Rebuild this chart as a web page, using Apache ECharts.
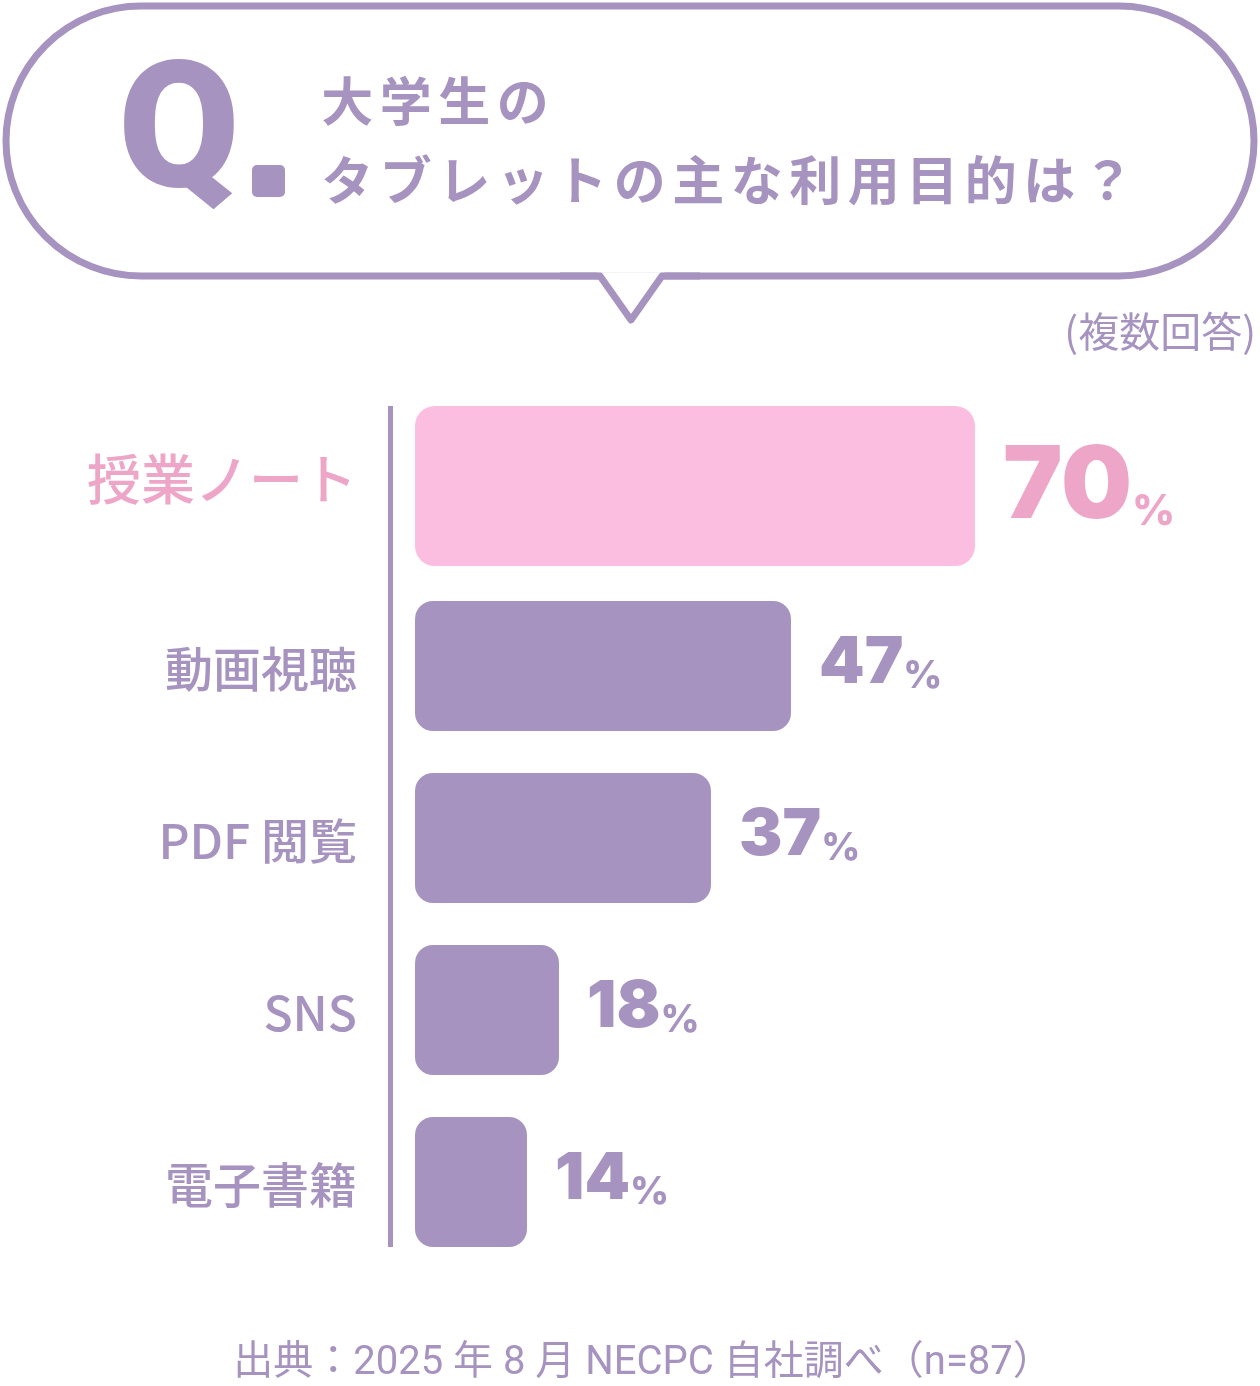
<!DOCTYPE html>
<html><head><meta charset="utf-8">
<script src="https://cdn.jsdelivr.net/npm/echarts@6/dist/echarts.min.js"></script>
<style>html,body{margin:0;padding:0;background:#fff}#c{width:1260px;height:1386px}</style>
</head><body><div id="c"></div>
<script>
const categories = ['授業ノート', '動画視聴', 'PDF 閲覧', 'SNS', '電子書籍'];
const values = [70, 47, 37, 18, 14];
const valueUnit = '%';
const titleLine1 = '大学生の';
const titleLine2 = 'タブレットの主な利用目的は？';
const questionLetter = 'Q';
const noteText = '(複数回答)';
const sourceText = '出典：2025 年 8 月 NECPC 自社調べ（n=87）';

const PURPLE = '#a693bf';
const PINK_BAR = '#fbbde0';
const PINK_TEXT = '#eea6c8';
const CJK = '"Noto Sans CJK JP", "Noto Sans", sans-serif';
const NUM = 'Inter, Roboto, sans-serif';

function spaced(str, style) {
  return Array.from(str).map(ch => `{${style}|${ch}}`).join('');
}

const chart = echarts.init(document.getElementById('c'), null, {renderer: 'canvas'});

function renderItem(params, api) {
  const idx = api.value(1);
  const val = api.value(0);
  const start = api.coord([0, idx]);
  const end = api.coord([val, idx]);
  const band = api.size([0, 1])[1];
  const hl = idx === 0;
  const h = hl ? 160 : 130;
  const cy = start[1] - (hl ? 8 : 0);
  const top = cy - h / 2;
  const last = idx === values.length - 1;
  const lx = start[0] - 24.5;
  const col = hl ? PINK_TEXT : PURPLE;
  return {
    type: 'group',
    children: [
      {
        type: 'line',
        shape: {x1: lx, y1: hl ? top : start[1] - band / 2, x2: lx, y2: last ? top + h : start[1] + band / 2},
        style: {stroke: PURPLE, lineWidth: 5}
      },
      {
        type: 'rect',
        shape: {x: start[0], y: top, width: end[0] - start[0], height: h, r: hl ? 20 : 18},
        style: {fill: hl ? PINK_BAR : PURPLE}
      },
      {
        type: 'text',
        x: end[0] + 28,
        y: cy + (hl ? 2 : -3),
        style: {
          text: `{v|${val}}{p|${valueUnit}}`,
          align: 'left',
          verticalAlign: 'middle',
          fill: col,
          rich: {
            v: {fontFamily: NUM, fontWeight: 900, fontSize: hl ? 100 : 65, lineHeight: hl ? 100 : 65,
                fill: col, verticalAlign: 'bottom'},
            p: {fontFamily: NUM, fontWeight: 800, fontSize: hl ? 42 : 38, lineHeight: hl ? 42 : 38,
                fill: col, verticalAlign: 'bottom', padding: [0, 0, hl ? 5 : 0, 0]}
          }
        }
      }
    ]
  };
}

const option = {
  animation: false,
  backgroundColor: '#ffffff',
  grid: {left: 415, right: 45, top: 408, height: 860},
  xAxis: {type: 'value', min: 0, max: 100, show: false},
  yAxis: {
    type: 'category', data: categories, inverse: true,
    axisLine: {show: false}, axisTick: {show: false}, splitLine: {show: false},
    axisLabel: {
      margin: 58,
      formatter: (v, i) => i === 0 ? `{hl|${v}}` : `{n|${v}}`,
      rich: {
        hl: {fontFamily: CJK, fontWeight: 500, fontSize: 54, color: PINK_TEXT, padding: [0, 0, 30, 0]},
        n: {fontFamily: CJK, fontWeight: 500, fontSize: 48, color: PURPLE, padding: [6, 0, 0, 0]}
      }
    }
  },
  series: [{
    type: 'custom',
    renderItem: renderItem,
    data: values.map((v, i) => [v, i]),
    encode: {x: 0, y: 1},
    clip: false
  }],
  graphic: [
    {type: 'rect', shape: {x: 6, y: 6, width: 1248, height: 270, r: 135}, style: {fill: '#fff', stroke: PURPLE, lineWidth: 7}, z: 1},
    {type: 'polygon', shape: {points: [[597, 272.3], [665, 272.3], [631, 316]]}, style: {fill: '#fff'}, z: 2},
    {type: 'polyline', shape: {points: [[560, 276], [600, 276], [631, 320], [662, 276], [700, 276]]}, style: {fill: null, stroke: PURPLE, lineWidth: 7, lineJoin: 'round', lineCap: 'butt'}, z: 3},
    {type: 'text', x: 118, y: 142, z: 4, style: {text: questionLetter, font: '900 176px Roboto', fill: PURPLE, verticalAlign: 'middle'}},
    {type: 'rect', shape: {x: 252, y: 165, width: 33, height: 32, r: 5}, style: {fill: PURPLE}, z: 4},
    {type: 'text', x: 318, y: 101, z: 4, style: {text: spaced(titleLine1, 'c'), verticalAlign: 'middle', fill: PURPLE,
      rich: {c: {fontFamily: CJK, fontWeight: 700, fontSize: 52, width: 58.5, align: 'center', fill: PURPLE}}}},
    {type: 'text', x: 318, y: 180, z: 4, style: {text: spaced(titleLine2, 'c'), verticalAlign: 'middle', fill: PURPLE,
      rich: {c: {fontFamily: CJK, fontWeight: 700, fontSize: 52, width: 58.5, align: 'center', fill: PURPLE}}}},
    {type: 'text', x: 1256, y: 331, style: {text: noteText, font: '400 41px ' + CJK, fill: PURPLE, align: 'right', verticalAlign: 'middle'}},
    {type: 'text', x: 643, y: 1364, style: {text: sourceText, font: '400 40px Roboto, ' + CJK, fill: PURPLE, align: 'center', verticalAlign: 'middle'}}
  ]
};
chart.setOption(option);
</script></body></html>
